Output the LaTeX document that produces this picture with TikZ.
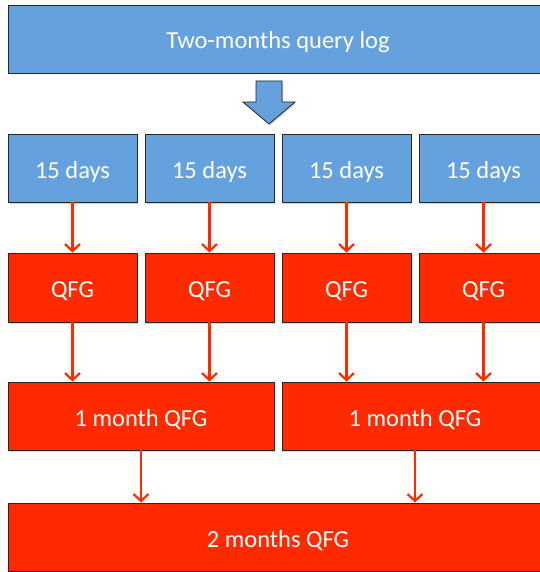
\documentclass[tikz,border=0pt]{standalone}
\usepackage{fontspec}
\setmainfont{Carlito}
\usetikzlibrary{arrows.meta,shadows}
\definecolor{logblue}{HTML}{65A1DD}
\definecolor{qfgred}{HTML}{FF2A00}
\begin{document}
\begin{tikzpicture}[x=1bp,y=-1bp,
  box/.style={draw=black!85,line width=0.9bp,text=white,inner sep=0pt,
    text height=20bp,text depth=0bp,
    font=\fontsize{24.5bp}{28bp}\selectfont,
    drop shadow={shadow xshift=1bp,shadow yshift=-1.5bp,opacity=0.35}},
  logbox/.style={box,fill=logblue},
  qfgbox/.style={box,fill=qfgred},
  flow/.style={draw=qfgred,line width=2.2bp,-{Straight Barb[length=7bp,width=15bp,line width=2.2bp]}}]
\clip (0,0) rectangle (540,572);
\fill[white] (0,0) rectangle (540,572);
% query log
\node[logbox,minimum width=540bp,minimum height=68bp] (log) at (278,39) {Two-months query log};
% split arrow
\filldraw[logblue,draw=black!85,line width=0.8bp,
  drop shadow={shadow xshift=1bp,shadow yshift=-1.5bp,opacity=0.35}]
  (256,81) -- (282,81) -- (282,102) -- (295,102) -- (269,124)
  -- (243,102) -- (256,102) -- cycle;
% 15 days parts and their QFGs
\foreach \i/\x in {1/72.5,2/209.5,3/346.5,4/483.5}{
  \node[logbox,minimum width=129bp,minimum height=68bp] (d\i) at (\x,168) {15 days};
  \node[qfgbox,minimum width=129bp,minimum height=69bp] (q\i) at (\x,287.5) {QFG};
  \draw[flow] (d\i) -- (q\i);
}
% 1 month QFGs
\node[qfgbox,minimum width=266bp,minimum height=68bp] (m1) at (141,416) {1 month QFG};
\node[qfgbox,minimum width=266bp,minimum height=68bp] (m2) at (415,416) {1 month QFG};
\draw[flow] (q1.south) -- (q1.south |- m1.north);
\draw[flow] (q2.south) -- (q2.south |- m1.north);
\draw[flow] (q3.south) -- (q3.south |- m2.north);
\draw[flow] (q4.south) -- (q4.south |- m2.north);
% 2 months QFG
\node[qfgbox,minimum width=540bp,minimum height=68bp] (all) at (278,537) {2 months QFG};
\draw[flow] (m1.south) -- (m1.south |- all.north);
\draw[flow] (m2.south) -- (m2.south |- all.north);
\end{tikzpicture}
\end{document}
